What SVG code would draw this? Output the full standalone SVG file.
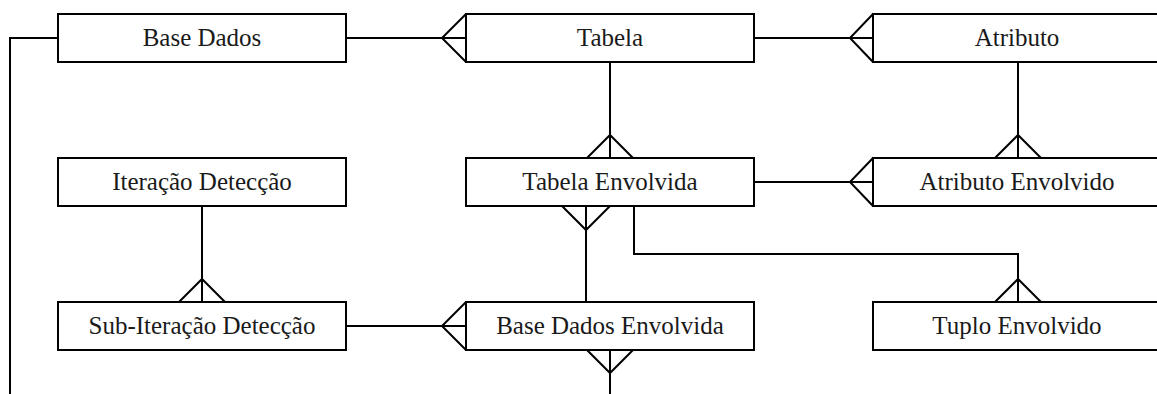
<svg xmlns="http://www.w3.org/2000/svg" width="1157" height="394" viewBox="0 0 1157 394">
  <style>
    .box { fill: #ffffff; stroke: #000000; stroke-width: 2; }
    .lbl { font-family: "Liberation Serif", "Times New Roman", serif; font-size: 25px; fill: #1a1a1a; text-anchor: middle; }
    .ln { fill: none; stroke: #000000; stroke-width: 2; stroke-linejoin: miter; }
  </style>
  <rect width="1157" height="394" fill="#ffffff"/>

  <!-- relationship lines with crow's-foot ends -->
  <g id="connectors" class="ln">
    <!-- Base Dados: outgoing line down the left margin -->
    <path d="M58 38 H10 V394"/>
    <!-- Base Dados -> Tabela -->
    <path d="M346 38 H466 M466 14 L442 38 L466 62"/>
    <!-- Tabela -> Atributo -->
    <path d="M754 38 H873 M873 14 L850 38 L873 62"/>
    <!-- Tabela -> Tabela Envolvida -->
    <path d="M610 62 V158 M587 158 L610 135 L633 158"/>
    <!-- Atributo -> Atributo Envolvido -->
    <path d="M1018 62 V158 M995 158 L1018 135 L1041 158"/>
    <!-- Tabela Envolvida -> Atributo Envolvido -->
    <path d="M754 182 H873 M873 158 L850 182 L873 206"/>
    <!-- Base Dados Envolvida -> Tabela Envolvida -->
    <path d="M586 206 V302 M562 206 L586 230 L610 206"/>
    <!-- Tabela Envolvida -> Tuplo Envolvido -->
    <path d="M634 206 V254 H1018 V302 M995 302 L1018 279 L1041 302"/>
    <!-- Iteração Detecção -> Sub-Iteração Detecção -->
    <path d="M202 206 V302 M179 302 L202 279 L225 302"/>
    <!-- Sub-Iteração Detecção -> Base Dados Envolvida -->
    <path d="M346 326 H466 M466 302 L442 326 L466 350"/>
    <!-- Base Dados Envolvida: outgoing line to the bottom -->
    <path d="M610 350 V394 M587 350 L610 373 L633 350"/>
  </g>

  <g id="base-dados">
    <rect class="box" x="58" y="14" width="288" height="48"/>
    <text class="lbl" x="202" y="46">Base Dados</text>
  </g>
  <g id="tabela">
    <rect class="box" x="466" y="14" width="288" height="48"/>
    <text class="lbl" x="610" y="46">Tabela</text>
  </g>
  <g id="atributo">
    <rect class="box" x="873" y="14" width="288" height="48"/>
    <text class="lbl" x="1017" y="46">Atributo</text>
  </g>
  <g id="iteracao-deteccao">
    <rect class="box" x="58" y="158" width="288" height="48"/>
    <text class="lbl" x="202" y="190">Iteração Detecção</text>
  </g>
  <g id="tabela-envolvida">
    <rect class="box" x="466" y="158" width="288" height="48"/>
    <text class="lbl" x="610" y="190">Tabela Envolvida</text>
  </g>
  <g id="atributo-envolvido">
    <rect class="box" x="873" y="158" width="288" height="48"/>
    <text class="lbl" x="1017" y="190">Atributo Envolvido</text>
  </g>
  <g id="sub-iteracao-deteccao">
    <rect class="box" x="58" y="302" width="288" height="48"/>
    <text class="lbl" x="202" y="334">Sub-Iteração Detecção</text>
  </g>
  <g id="base-dados-envolvida">
    <rect class="box" x="466" y="302" width="288" height="48"/>
    <text class="lbl" x="610" y="334">Base Dados Envolvida</text>
  </g>
  <g id="tuplo-envolvido">
    <rect class="box" x="873" y="302" width="288" height="48"/>
    <text class="lbl" x="1017" y="334">Tuplo Envolvido</text>
  </g>
</svg>
